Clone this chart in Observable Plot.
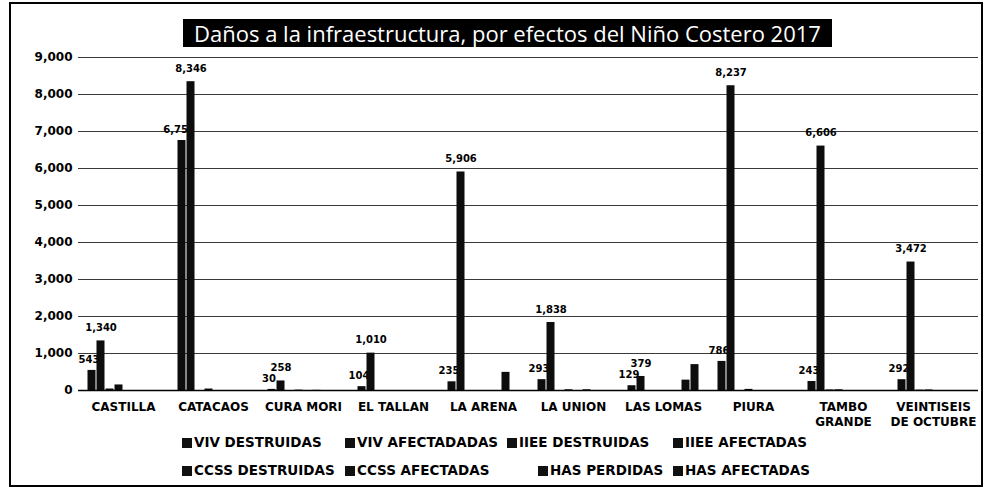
<!DOCTYPE html>
<html>
<head>
<meta charset="utf-8">
<script src="https://cdn.jsdelivr.net/npm/d3@7"></script>
<script src="https://cdn.jsdelivr.net/npm/@observablehq/plot@0.6"></script>
<style>
  body { margin: 0; background: #fff; width: 995px; height: 493px; position: relative; overflow: hidden; font-family: "DejaVu Sans", sans-serif; }
  #frame { position: absolute; left: 9px; top: 2px; width: 974px; height: 485px; border: 2px solid #000; box-sizing: border-box; }
  #title { position: absolute; left: 183px; top: 19px; width: 649px; height: 28px; background: #000; color: #fff;
           font-family: "Open Sans", sans-serif; font-size: 22px; line-height: 28px; text-align: center; white-space: nowrap; }
  #chart { position: absolute; left: 0; top: 0; }
  .leg { position: absolute; font-weight: bold; font-size: 13.5px; line-height: 14px; white-space: nowrap; color: #000; }
  .sw { display: inline-block; width: 10px; height: 10px; background: #111; margin-right: 2px; vertical-align: -1px; }
</style>
</head>
<body>
<div id="frame"></div>
<div id="chart"></div>
<div id="title">Daños a la infraestructura, por efectos del Niño Costero 2017</div>
<div id="legend"></div>
<script>
// ---- data ----
const districts = ["CASTILLA", "CATACAOS", "CURA MORI", "EL TALLAN", "LA ARENA", "LA UNION", "LAS LOMAS", "PIURA", "TAMBO GRANDE", "VEINTISEIS DE OCTUBRE"];
const districtTickLabels = ["CASTILLA", "CATACAOS", "CURA MORI", "EL TALLAN", "LA ARENA", "LA UNION", "LAS LOMAS", "PIURA", "TAMBO\nGRANDE", "VEINTISEIS\nDE OCTUBRE"];
const seriesNames = ["VIV DESTRUIDAS", "VIV AFECTADADAS", "IIEE DESTRUIDAS", "IIEE AFECTADAS", "CCSS DESTRUIDAS", "CCSS AFECTADAS", "HAS PERDIDAS", "HAS AFECTADAS"];
const vivDestruidas  = [543, 6757, 30, 104, 235, 293, 129, 786, 243, 292];
const vivAfectadas   = [1340, 8346, 258, 1010, 5906, 1838, 379, 8237, 6606, 3472];
const iieeDestruidas = [40, 0, 0, 0, 0, 0, 0, 0, 15, 10];
const iieeAfectadas  = [150, 40, 10, 0, 0, 20, 0, 30, 20, 15];
const ccssDestruidas = [0, 0, 0, 0, 0, 0, 0, 0, 0, 0];
const ccssAfectadas  = [0, 0, 5, 0, 0, 20, 0, 0, 0, 0];
const hasPerdidas    = [0, 0, 0, 0, 490, 0, 280, 0, 0, 0];
const hasAfectadas   = [0, 0, 0, 0, 0, 0, 700, 0, 0, 0];
const yTicks = [0, 1000, 2000, 3000, 4000, 5000, 6000, 7000, 8000, 9000];
const legendRow1 = ["VIV DESTRUIDAS", "VIV AFECTADADAS", "IIEE DESTRUIDAS", "IIEE AFECTADAS"];
const legendRow2 = ["CCSS DESTRUIDAS", "CCSS AFECTADAS", "HAS PERDIDAS", "HAS AFECTADAS"];

const seriesValues = [vivDestruidas, vivAfectadas, iieeDestruidas, iieeAfectadas, ccssDestruidas, ccssAfectadas, hasPerdidas, hasAfectadas];
const rows = [];
districts.forEach((d, i) => seriesValues.forEach((vals, j) => rows.push({district: d, series: seriesNames[j], value: vals[i], s: j})));
const fmt = d3.format(",");

const chart = Plot.plot({
  width: 995,
  height: 430,
  marginLeft: 75,
  marginRight: 14,
  marginTop: 57,
  marginBottom: 40,
  style: {fontFamily: "DejaVu Sans, sans-serif", fontWeight: "bold", background: "transparent", color: "#000"},
  fx: {domain: districts, paddingInner: 0.152, paddingOuter: 0.076, label: null},
  x: {domain: seriesNames, padding: 0, axis: null},
  y: {domain: [0, 9000], label: null},
  marks: [
    Plot.ruleY(yTicks.filter(t => t > 0), {stroke: "#3a3a3a", strokeWidth: 1.2, insetLeft: -7, insetRight: -7}),
    Plot.text(rows.filter(r => r.s === 0), {fx: "district", x: "series", y: "value", text: r => fmt(r.value), dy: -11, dx: -3, fontSize: 10, fontWeight: "bold", fill: "#000"}),
    Plot.barY(rows, {fx: "district", x: "series", y: "value", fill: "#0d0d0d", insetLeft: 0.5, insetRight: 0.5}),
    Plot.text(rows.filter(r => r.s === 1), {fx: "district", x: "series", y: "value", text: r => fmt(r.value), dy: -13, fontSize: 10, fontWeight: "bold", fill: "#000"}),
    Plot.ruleY([0], {stroke: "#000", strokeWidth: 1.5, insetLeft: -7, insetRight: -7}),
    Plot.axisY({ticks: yTicks, tickFormat: d3.format(","), tickSize: 0, tickPadding: 13, fontSize: 12, fontWeight: "bold", label: null}),
    Plot.axisFx({anchor: "bottom", tickSize: 0, tickPadding: 9, fontSize: 12, fontWeight: "bold", lineHeight: 1.3, label: null,
                 tickFormat: d => districtTickLabels[districts.indexOf(d)]})
  ]
});
document.getElementById("chart").appendChild(chart);

// legend
const legend = document.getElementById("legend");
const legX1 = [182, 345, 507, 673];
const legX2 = [182, 345, 538, 673];
function addRow(names, xs, top) {
  names.forEach((n, i) => {
    const div = document.createElement("div");
    div.className = "leg";
    div.style.left = xs[i] + "px";
    div.style.top = top + "px";
    div.innerHTML = '<span class="sw"></span>';
    div.appendChild(document.createTextNode(n));
    legend.appendChild(div);
  });
}
addRow(legendRow1, legX1, 435);
addRow(legendRow2, legX2, 463);
</script>
</body>
</html>
